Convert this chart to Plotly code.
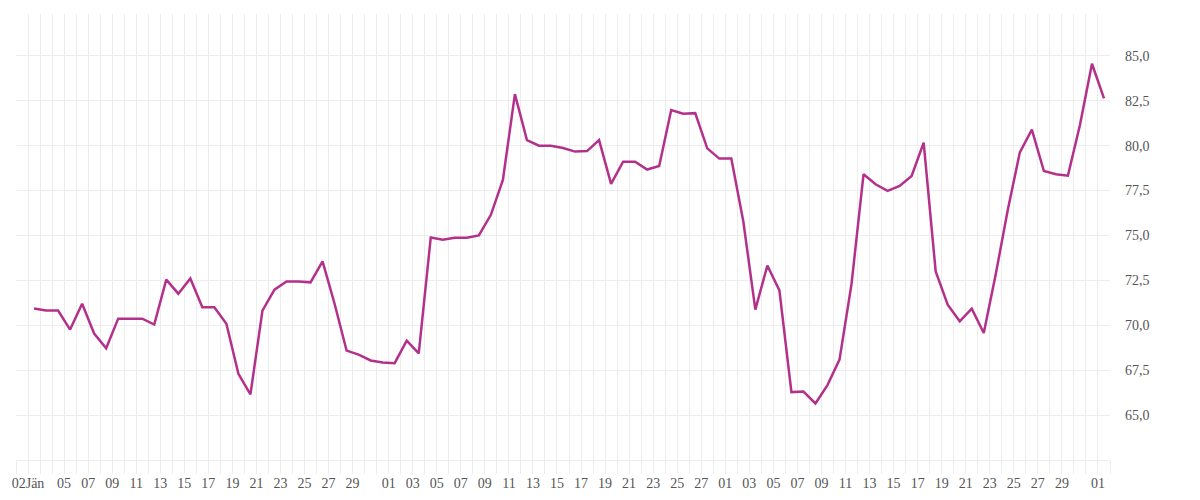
import pandas as pd
import plotly.graph_objects as go

# ── Data ──────────────────────────────────────────────────────────────────────
START_DAY = "2025-01-02"
jan_values = [70.93, 70.82, 70.82, 69.76, 71.2, 69.54, 68.72, 70.37, 70.37, 70.37,
              70.04, 72.54, 71.76, 72.61, 71.0, 71.0, 70.09, 67.3, 66.15, 70.82,
              71.98, 72.44, 72.44, 72.39, 73.56, 71.2, 68.59, 68.37, 68.04, 67.93]
feb_values = [67.89, 69.15, 68.44, 74.89, 74.76, 74.87, 74.87, 75.0, 76.15, 78.09,
              82.87, 80.31, 80.0, 80.0, 79.87, 79.67, 79.7, 80.31, 77.87, 79.11,
              79.11, 78.67, 78.87, 81.98, 81.78, 81.81, 79.85, 79.28]
mar_values = [79.28, 75.78, 70.87, 73.33, 71.94, 66.28, 66.31, 65.65, 66.67, 68.09,
              72.3, 78.41, 77.85, 77.48, 77.76, 78.31, 80.17, 73.0, 71.15, 70.22,
              70.93, 69.57, 72.85, 76.43, 79.63, 80.89, 78.59, 78.41, 78.33, 81.15,
              84.56]
apr_values = [82.63]

y_ticks = [65.0, 67.5, 70.0, 72.5, 75.0, 77.5, 80.0, 82.5, 85.0]
month_abbr = {1: "Jän", 2: "Feb", 3: "Mär", 4: "Apr"}

# ── Build series ─────────────────────────────────────────────────────────────
values = jan_values + feb_values + mar_values + apr_values
days = pd.date_range(START_DAY, periods=len(values), freq="D")
x_mid = days + pd.Timedelta(hours=12)  # points sit in the middle of each day

# labels on odd days (31st skipped); first tick carries the month, 03 Jän
# is dropped because it would collide with it
tick_days = [days[0]] + [d for d in days
                         if d.day % 2 == 1 and d.day != 31 and d != days[1]]
tick_text = [f"{d:%d}{month_abbr[d.month]}" if i == 0 else f"{d:%d}"
             for i, d in enumerate(tick_days)]

C_LINE = "#b3318b"
C_GRID = "#ededed"
C_TEXT = "#555555"

fig = go.Figure(go.Scatter(
    x=x_mid,
    y=values,
    mode="lines",
    line=dict(color=C_LINE, width=2.5),
    hovertemplate="%{x|%d.%m.}: %{y:.1f}<extra></extra>",
))

# page body has an 8px margin, so the figure is sized to fit inside it
fig.update_layout(
    width=1184, height=484,
    paper_bgcolor="#ffffff",
    plot_bgcolor="#ffffff",
    separators=",.",
    font=dict(family="Liberation Serif, serif", color=C_TEXT, size=14),
    margin=dict(l=8, r=82, t=6, b=32),
    showlegend=False,
    xaxis=dict(
        type="date",
        range=["2025-01-01", "2025-04-02"],
        tickvals=tick_days,
        ticktext=tick_text,
        ticks="outside", ticklen=13, tickcolor=C_GRID, tickwidth=1,
        showgrid=True, gridcolor=C_GRID, gridwidth=1,
        minor=dict(dtick=86400000, showgrid=True, gridcolor=C_GRID,
                   ticks="outside", ticklen=13, tickcolor=C_GRID),
        showline=True, linecolor=C_GRID, linewidth=1,
        zeroline=False,
        tickangle=0,
        automargin=False,
        ticklabelstandoff=-3,
    ),
    yaxis=dict(
        side="right",
        range=[62.5, 87.33],
        tickvals=y_ticks,
        tickformat=".1f",
        showgrid=True, gridcolor=C_GRID, gridwidth=1,
        zeroline=False,
        ticks="",
        ticklabelstandoff=14,
        automargin=False,
    ),
)

fig.write_html("out.html")
